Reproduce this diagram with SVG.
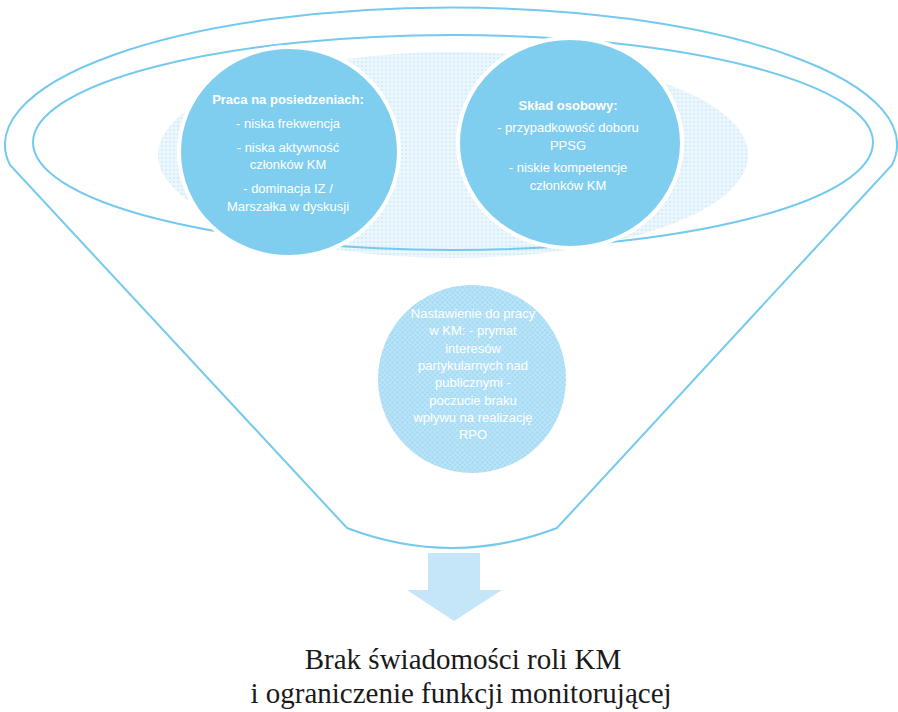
<svg xmlns="http://www.w3.org/2000/svg" width="898" height="712" viewBox="0 0 898 712">
<defs>
<pattern id="lightDots" width="4" height="4" patternUnits="userSpaceOnUse">
<rect width="4" height="4" fill="#edf7fd"/>
<circle cx="2" cy="2" r="1.3" fill="#d6eefa"/>
</pattern>
<pattern id="blueDots" width="5" height="5" patternUnits="userSpaceOnUse">
<rect width="5" height="5" fill="#a6dbf4"/>
<circle cx="2.5" cy="2.5" r="2" fill="none" stroke="#c6e9f9" stroke-width="0.8"/>
</pattern>
<style>
.line{fill:none;stroke:#74c9ee;stroke-width:2}
.solid{fill:#80ceef;stroke:#ffffff;stroke-width:4}
.t{font-family:"Liberation Sans","Open Sans",sans-serif;font-size:13px;fill:#ffffff;text-anchor:middle}
.b{font-weight:bold}
.res{font-family:"Liberation Serif","Times New Roman",serif;font-size:29px;fill:#1a1a1a;text-anchor:middle}
</style>
</defs>
<rect width="898" height="712" fill="#ffffff"/>
<g id="funnel">
<ellipse cx="453" cy="155" rx="295" ry="103" fill="url(#lightDots)"/>
<path class="line" d="M10,165 A446,137 0 1 1 892,165 L557,528 Q452,568 347,528 Z"/>
<ellipse class="line" cx="453" cy="142.5" rx="420" ry="107.5"/>
</g>
<g id="node-posiedzenia">
<ellipse class="solid" cx="289" cy="152" rx="110" ry="105"/>
<text class="t b" x="288" y="104">Praca na posiedzeniach:</text>
<text class="t" x="288" y="128">- niska frekwencja</text>
<text class="t" x="288" y="152">- niska aktywność</text>
<text class="t" x="288" y="169">członków KM</text>
<text class="t" x="288" y="193">- dominacja IZ /</text>
<text class="t" x="288" y="211">Marszałka w dyskusji</text>
</g>
<g id="node-sklad">
<ellipse class="solid" cx="570" cy="143" rx="112" ry="105"/>
<text class="t b" x="568" y="110">Skład osobowy:</text>
<text class="t" x="568" y="132">- przypadkowość doboru</text>
<text class="t" x="568" y="150">PPSG</text>
<text class="t" x="568" y="172">- niskie kompetencje</text>
<text class="t" x="568" y="190">członków KM</text>
</g>
<g id="node-nastawienie">
<circle cx="472" cy="379" r="94" fill="url(#blueDots)"/>
<text class="t" x="473" y="318">Nastawienie do pracy</text>
<text class="t" x="473" y="335">w KM: - prymat</text>
<text class="t" x="473" y="353">interesów</text>
<text class="t" x="473" y="370">partykularnych nad</text>
<text class="t" x="473" y="387">publicznymi -</text>
<text class="t" x="473" y="405">poczucie braku</text>
<text class="t" x="473" y="422">wpływu na realizację</text>
<text class="t" x="473" y="439">RPO</text>
</g>
<g id="connectors">
<path d="M428,553 L480,553 L480,590 L502,590 L454,621 L407,590 L428,590 Z" fill="#c4e6f8"/>
</g>
<g id="node-result">
<text class="res" x="463" y="669">Brak świadomości roli KM</text>
<text class="res" x="461" y="703">i ograniczenie funkcji monitorującej</text>
</g>
</svg>
